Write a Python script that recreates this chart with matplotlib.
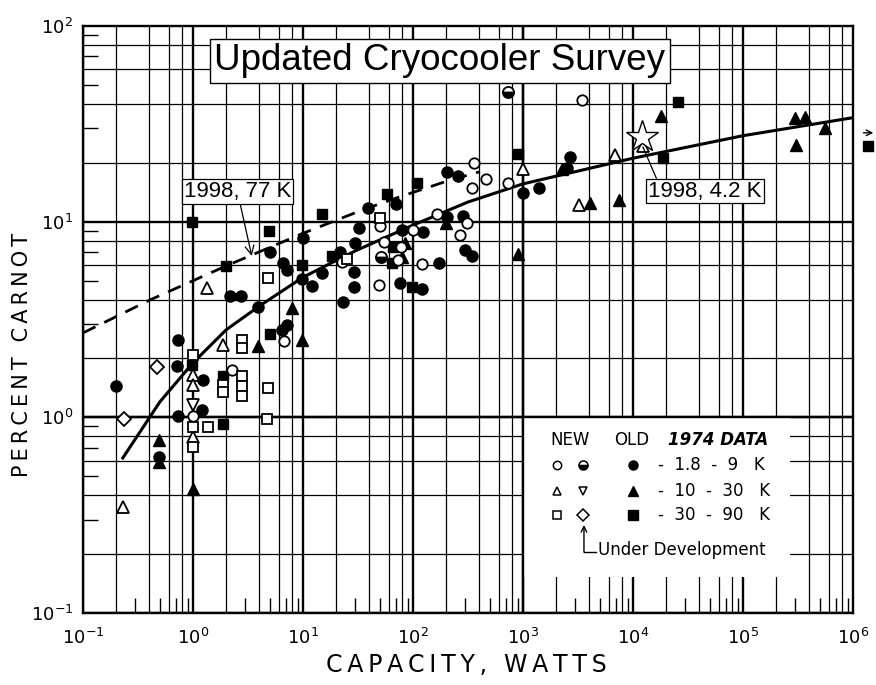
import matplotlib
matplotlib.use("Agg")
import matplotlib.pyplot as plt
from matplotlib.patches import Rectangle
from matplotlib.ticker import LogLocator, NullFormatter, FixedLocator

# capacity (W) and percent Carnot
new_circle_x = [0.99, 2.28, 6.7, 22.5, 50, 54, 49, 73, 77, 99, 120, 164, 308, 269, 359, 464, 342, 735, 3420]
new_circle_y = [1.01, 1.75, 2.45, 6.2, 9.5, 7.9, 4.75, 6.4, 7.45, 9.1, 6.1, 11.0, 9.8, 8.55, 20.0, 16.5, 14.8, 15.8, 41.9]

old_half_x = [735, 51]
old_half_y = [46.2, 6.6]

f74_circle_x = [0.20, 0.49, 0.73, 0.72, 0.73, 1.24, 1.2, 2.17, 2.71, 3.92, 5.01, 6.40, 7.11, 6.62,
                7.11, 9.7, 12.0, 14.8, 10.06, 23.2, 29.3, 29.3, 21.7, 29.7, 32.5, 39.3, 70.0, 78.9,
                124, 173, 76.2, 120, 202, 287, 202, 256, 297, 342, 1000, 1406, 2692, 2497]
f74_circle_y = [1.44, 0.63, 2.49, 1.82, 1.01, 1.55, 1.09, 4.17, 4.17, 3.68, 7.03, 2.80, 2.97, 6.13,
                5.66, 5.08, 4.69, 5.45, 8.22, 3.90, 5.55, 4.62, 7.03, 7.76, 9.32, 11.7, 12.3, 9.08,
                8.89, 6.17, 4.88, 4.52, 10.6, 10.7, 18.0, 17.1, 7.2, 6.68, 14.0, 14.9, 21.5, 18.7]

new_tri_x = [0.232, 1.33, 0.99, 0.99, 0.99, 1.89, 1000, 3250, 6860, 12300]
new_tri_y = [0.347, 4.57, 1.65, 1.47, 0.797, 2.34, 18.5, 12.2, 21.9, 24.4]

old_tri_down_x = [0.99]
old_tri_down_y = [1.16]

f74_tri_x = [0.49, 0.49, 0.99, 3.92, 7.89, 9.85, 198, 84.5, 78.9, 906, 2249, 4066, 7500,
             18000, 297000, 366000, 556000, 303000]
f74_tri_y = [0.766, 0.59, 0.43, 2.32, 3.61, 2.49, 9.82, 7.76, 6.63, 6.8, 18.5, 12.4, 12.9,
             34.7, 33.8, 34.4, 30.0, 24.7]

new_sq_x = [0.99, 0.99, 0.99, 1.38, 1.89, 1.89, 2.77, 2.77, 2.77, 2.77, 2.77, 4.77, 4.77, 4.68, 24.9, 50.1]
new_sq_y = [2.08, 0.897, 0.708, 0.897, 1.47, 1.35, 2.47, 2.25, 1.63, 1.44, 1.28, 5.14, 1.42, 0.978, 6.43, 10.5]

old_diamond_x = [0.237, 0.47]
old_diamond_y = [0.978, 1.80]

f74_sq_x = [0.97, 0.97, 1.89, 1.89, 2.0, 4.93, 5.01, 9.85, 14.8, 18.3, 58.4, 108, 66.2, 64.0, 97.2,
            906, 18600, 25800]
f74_sq_y = [10.0, 1.85, 1.62, 0.93, 5.94, 8.97, 2.66, 6.01, 11.0, 6.68, 13.8, 15.7, 7.45, 6.17, 4.62,
            22.2, 21.1, 41.0]

# one 30-90 K point beyond 1 MW, drawn outside the frame
offaxis_sq_x = [1.38e6]
offaxis_sq_y = [24.4]

star_x = [12000]
star_y = [27.2]

# trend lines
trend_x = [0.23, 0.5, 1, 2, 4, 10, 30, 100, 316, 1e3, 1e4, 1e5, 1e6]
trend_y = [0.62, 1.2, 1.9, 2.8, 3.7, 5.2, 7.1, 9.6, 12.6, 15.6, 21.1, 27.5, 34]
trend77_x = [0.1, 0.406, 2.0, 10, 35, 76, 216, 406]
trend77_y = [2.7, 3.98, 5.94, 8.72, 11.5, 13.4, 16.3, 18.0]

x_decades = [1e-1, 1e0, 1e1, 1e2, 1e3, 1e4, 1e5, 1e6]
y_decades = [1e-1, 1e0, 1e1, 1e2]

THIN = "\u2009"


def spaced(s):
    # lettering on the original is widely spaced
    return THIN.join(s)


fig = plt.figure(figsize=(8.76, 6.85), dpi=100)
ax = fig.add_axes([83 / 876, 1 - 613 / 685, 770 / 876, 587 / 685])
ax.set_xscale("log")
ax.set_yscale("log")
ax.set_xlim(0.1, 1e6)
ax.set_ylim(0.1, 100)

# hand-drawn style grid: lines at 1,2,4,6,8 of each decade
for d in range(-1, 6):
    for m in [1, 2, 4, 6, 8]:
        ax.axvline(m * 10.0 ** d, color="black", lw=1.7 if m == 1 else 0.9, zorder=1)
for d in range(-1, 2):
    for m in [1, 2, 4, 6, 8]:
        ax.axhline(m * 10.0 ** d, color="black", lw=1.7 if m == 1 else 0.9, zorder=1)

# blank area for the legend, bounded by the 10^3 and 10^0 lines
ax.add_patch(Rectangle((1e3, 0.153), 2.67e5 - 1e3, 1.0 - 0.153, facecolor="white",
                       edgecolor="none", zorder=2))
ax.axvline(1e3, color="black", lw=1.7, zorder=2.5)
ax.axhline(1.0, color="black", lw=1.7, zorder=2.5)

ax.plot(trend_x, trend_y, color="black", lw=2.2, zorder=3)
ax.plot(trend77_x, trend77_y, color="black", lw=2.0, dashes=(5, 3.5), zorder=3)

mk = dict(linestyle="none", color="black", zorder=4)
ax.plot(f74_circle_x, f74_circle_y, marker="o", ms=8, **mk)
ax.plot(f74_tri_x, f74_tri_y, marker="^", ms=8.5, **mk)
ax.plot(f74_sq_x, f74_sq_y, marker="s", ms=7.5, **mk)
ax.plot(offaxis_sq_x, offaxis_sq_y, marker="s", ms=7.5, clip_on=False, **mk)
ax.plot(new_circle_x, new_circle_y, marker="o", ms=7.5, mfc="white", mew=1.3, **mk)
ax.plot(new_tri_x, new_tri_y, marker="^", ms=8, mfc="white", mew=1.3, **mk)
ax.plot(new_sq_x, new_sq_y, marker="s", ms=7, mfc="white", mew=1.3, **mk)
ax.plot(old_tri_down_x, old_tri_down_y, marker="v", ms=8, mfc="white", mew=1.3, **mk)
ax.plot(old_diamond_x, old_diamond_y, marker="D", ms=7.5, mfc="white", mew=1.3, **mk)
ax.plot(old_half_x, old_half_y, marker="o", ms=8, fillstyle="bottom", mfc="black",
        mfcalt="white", mew=1.3, **mk)
ax.plot(star_x, star_y, marker="*", ms=24, mfc="white", mew=1.0, **mk)

# arrow telling the last square is beyond the axis
ax.annotate("", xy=(1.03, 0.818), xytext=(1.01, 0.818), xycoords="axes fraction",
            arrowprops=dict(arrowstyle="->", lw=1.0, color="black"), annotation_clip=False)

# title and annotations
ax.text(0.4636, 0.9404, "Updated Cryocooler Survey", transform=ax.transAxes,
        ha="center", va="center", fontsize=26.5, family="Liberation Sans", zorder=6,
        bbox=dict(boxstyle="square,pad=0.12", facecolor="white", edgecolor="black", lw=1.0))
ax.annotate("1998, 77 K", xy=(3.42, 6.68), xytext=(0.2006, 0.7177),
            textcoords="axes fraction", ha="center", va="center", fontsize=16,
            family="Liberation Sans", zorder=6,
            bbox=dict(boxstyle="square,pad=0.08", facecolor="white", edgecolor="black", lw=0.9),
            arrowprops=dict(arrowstyle="->", lw=0.9, color="black", shrinkA=0, shrinkB=0))
ax.annotate("1998, 4.2 K", xy=(12300, 24.1), xytext=(0.8078, 0.7189),
            textcoords="axes fraction", ha="center", va="center", fontsize=16,
            family="Liberation Sans", zorder=6,
            bbox=dict(boxstyle="square,pad=0.08", facecolor="white", edgecolor="black", lw=0.9),
            arrowprops=dict(arrowstyle="-", lw=0.9, color="black", shrinkA=0, shrinkB=0,
                            relpos=(0.08, 1.0)))

# legend block
tr = ax.transAxes
ax.text(0.6325, 0.2947, "NEW", transform=tr, ha="center", va="center", fontsize=12, zorder=6)
ax.text(0.7123, 0.2947, "OLD", transform=tr, ha="center", va="center", fontsize=12, zorder=6)
ax.text(0.8247, 0.2947, "1974 DATA", transform=tr, ha="center", va="center", fontsize=12,
        style="italic", weight="bold", zorder=6)
rows_y = [0.2521, 0.2083, 0.1670]
row_labels = ["-  1.8  -  9   K", "-  10  -  30   K", "-  30  -  90   K"]
new_marks = ["o", "^", "s"]
old_marks = ["o", "v", "D"]
f74_marks = ["o", "^", "s"]
for i, yy in enumerate(rows_y):
    ax.plot([0.6156], [yy], transform=tr, marker=new_marks[i], ms=6, mfc="white", mew=1.1, **mk)
    if i == 0:
        ax.plot([0.6494], [yy], transform=tr, marker="o", ms=6.5, fillstyle="bottom", mfc="black",
                mfcalt="white", mew=1.1, **mk)
    else:
        ax.plot([0.6494], [yy], transform=tr, marker=old_marks[i], ms=6, mfc="white", mew=1.1, **mk)
    ax.plot([0.7143], [yy], transform=tr, marker=f74_marks[i], ms=6.5, **mk)
    ax.text(0.7468, yy, row_labels[i], transform=tr, ha="left", va="center", fontsize=12, zorder=6)
ax.annotate("", xy=(0.6506, 0.150), xytext=(0.6506, 0.1039), xycoords="axes fraction",
            arrowprops=dict(arrowstyle="->", lw=1.0, color="black", shrinkA=0, shrinkB=0), zorder=6)
ax.plot([0.6506, 0.6662], [0.1039, 0.1039], transform=tr, color="black", lw=1.0, zorder=6)
ax.text(0.6688, 0.1073, "Under Development", transform=tr, ha="left", va="center",
        fontsize=12, zorder=6)

# axes, ticks and labels
for s in ax.spines.values():
    s.set_linewidth(1.7)
    s.set_zorder(7)
ax.xaxis.set_major_locator(FixedLocator(x_decades))
ax.yaxis.set_major_locator(FixedLocator(y_decades))
ax.xaxis.set_minor_locator(LogLocator(base=10, subs=[3, 5, 7, 9], numticks=20))
ax.yaxis.set_minor_locator(LogLocator(base=10, subs=[3, 5, 7, 9], numticks=20))
ax.xaxis.set_minor_formatter(NullFormatter())
ax.yaxis.set_minor_formatter(NullFormatter())
ax.tick_params(which="major", length=0, labelsize=13, pad=11)
ax.tick_params(axis="y", which="major", pad=7)
ax.tick_params(which="minor", direction="in", length=11, width=1.0)

fig.text(22 / 876, 1 - 355 / 685, spaced("PERCENT CARNOT"), rotation=90, ha="center",
         va="center", fontsize=15)
fig.text(466 / 876, 1 - 665 / 685, spaced("CAPACITY, WATTS"), ha="center", va="center",
         fontsize=17)

fig.savefig("out.png", dpi=100)
